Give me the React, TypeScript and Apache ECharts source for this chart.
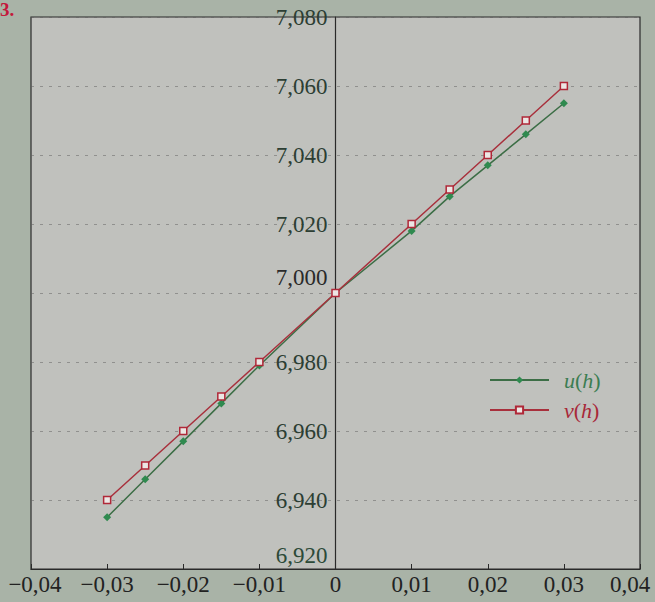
import React, { useEffect, useRef } from "react";
import * as echarts from "echarts";

const hValues = [-0.03, -0.025, -0.02, -0.015, -0.01, 0, 0.01, 0.015, 0.02, 0.025, 0.03];
const uValues = [6.935, 6.946, 6.957, 6.968, 6.979, 7.0, 7.018, 7.028, 7.037, 7.046, 7.055];
const vValues = [6.94, 6.95, 6.96, 6.97, 6.98, 7.0, 7.02, 7.03, 7.04, 7.05, 7.06];
const xTickLabels = ["−0,04", "−0,03", "−0,02", "−0,01", "0", "0,01", "0,02", "0,03", "0,04"];
const yTickLabels = ["6,920", "6,940", "6,960", "6,980", "7,000", "7,020", "7,040", "7,060", "7,080"];
const seriesNames = ["u(h)", "v(h)"];

const SERIF = "Times New Roman, Liberation Serif, DejaVu Serif, serif";

const GRID_LEFT = 31;
const GRID_RIGHT = 15;
const WIDTH = 655;

export default function App() {
  const ref = useRef<HTMLDivElement>(null);
  useEffect(() => {
    if (!ref.current) return;
    const chart = echarts.init(ref.current, undefined, { renderer: "svg" });
    const plotW = WIDTH - GRID_LEFT - GRID_RIGHT;
    chart.setOption({
      animation: false,
      backgroundColor: "#a9b3a7",
      textStyle: { fontFamily: SERIF },
      grid: {
        left: GRID_LEFT,
        right: GRID_RIGHT,
        top: 17,
        bottom: 33,
        containLabel: false,
        outerBoundsMode: "none",
        show: true,
        backgroundColor: "#c0c1bd",
        borderColor: "#2a2a2a",
        borderWidth: 1.2,
      },
      graphic: [
        {
          type: "text",
          left: 0,
          top: 0,
          style: { text: "3.", fontFamily: SERIF, fontWeight: "bold", fontSize: 19, fill: "#c4183c" },
        },
      ],
      legend: {
        orient: "vertical",
        left: 489,
        top: 368,
        padding: 0,
        itemWidth: 59,
        itemHeight: 9,
        itemGap: 6,
        data: [
          { name: seriesNames[0], textStyle: { color: "#3b7d52" } },
          { name: seriesNames[1], textStyle: { color: "#a82838" } },
        ],
        formatter: (name: string) => `{i|${name[0]}}{n|(}{i|h}{n|)}`,
        textStyle: {
          fontFamily: SERIF,
          fontSize: 22,
          lineHeight: 24,
          padding: [0, 0, 0, 10],
          rich: {
            i: { fontStyle: "italic", fontFamily: SERIF, fontSize: 22 },
            n: { fontFamily: SERIF, fontSize: 22 },
          },
        },
      },
      xAxis: {
        type: "value",
        min: -0.04,
        max: 0.04,
        interval: 0.01,
        splitLine: { show: false },
        axisLine: { onZero: false, lineStyle: { color: "#2a2a2a", width: 1.2 } },
        axisTick: { inside: true, length: 5, lineStyle: { color: "#2a2a2a" } },
        axisLabel: {
          margin: 4,
          color: "#222",
          fontFamily: SERIF,
          fontSize: 23,
          showMinLabel: true,
          showMaxLabel: true,
          formatter: (v: number) => {
            const idx = Math.round(v / 0.01) + 4;
            const t = xTickLabels[idx];
            if (idx === 0) return `{l|${t}}`;
            if (idx === xTickLabels.length - 1) return `{r|${t}}`;
            return t;
          },
          rich: {
            l: { fontFamily: SERIF, fontSize: 23, color: "#222", padding: [0, 0, 0, 8] },
            r: { fontFamily: SERIF, fontSize: 23, color: "#222", padding: [0, 20, 0, 0] },
          },
        },
      },
      yAxis: {
        type: "value",
        position: "left",
        offset: -plotW / 2,
        min: 6.92,
        max: 7.08,
        interval: 0.02,
        axisLine: { onZero: false, lineStyle: { color: "#2a2a2a", width: 1.2 } },
        axisTick: { show: false },
        splitLine: {
          show: true,
          lineStyle: { color: "rgba(95,95,95,0.5)", type: [3, 6], width: 1 },
        },
        axisLabel: {
          margin: 8,
          color: "#2c3e33",
          fontFamily: SERIF,
          fontSize: 23,
          showMinLabel: true,
          showMaxLabel: true,
          formatter: (v: number) => {
            const idx = Math.round((v - 6.92) / 0.02);
            const t = yTickLabels[idx];
            if (idx === 0) return `{a|${t}}`;
            if (idx === 4) return `{b|${t}}`;
            return t;
          },
          rich: {
            a: { fontFamily: SERIF, fontSize: 23, color: "#2c4a38", padding: [0, 0, 28, 0] },
            b: { fontFamily: SERIF, fontSize: 23, color: "#2a2a2a", padding: [0, 0, 32, 0] },
          },
        },
      },
      series: [
        {
          name: seriesNames[0],
          type: "line",
          data: hValues.map((h, i) => [h, uValues[i]]),
          symbol: "diamond",
          symbolSize: 8,
          itemStyle: { color: "#2f8a4f" },
          lineStyle: { color: "#3c6e46", width: 1.5 },
          z: 3,
        },
        {
          name: seriesNames[1],
          type: "line",
          data: hValues.map((h, i) => [h, vValues[i]]),
          symbol: "rect",
          symbolSize: 7,
          itemStyle: { color: "#ece6e4", borderColor: "#b02838", borderWidth: 1.5 },
          lineStyle: { color: "#a8303c", width: 1.5 },
          z: 4,
        },
      ],
    });
    return () => chart.dispose();
  }, []);
  return (
    <div
      ref={ref}
      style={{ position: "fixed", left: 0, top: 0, width: 655, height: 602 }}
    />
  );
}
